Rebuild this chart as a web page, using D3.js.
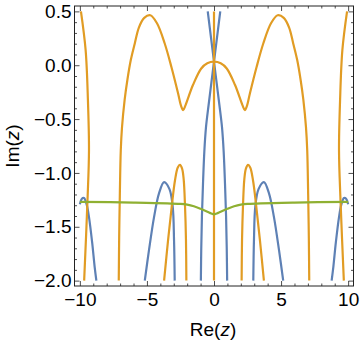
<!DOCTYPE html>
<html>
<head>
<meta charset="utf-8">
<script src="https://cdn.jsdelivr.net/npm/d3@7"></script>
<style>
  body { margin: 0; background: #fff; }
  svg { display: block; }
  text { font-family: "Liberation Sans", Arial, sans-serif; }
</style>
</head>
<body>
<div id="chart"></div>
<script>
// contour curves, [Re(z), Im(z)]
const orangeMain = [
  [-7.10, -2.0], [-7.07, -1.6], [-7.02, -1.2], [-6.95, -0.79], [-6.86, -0.58], [-6.66, -0.32],
  [-6.45, -0.13], [-6.2, 0.05], [-5.91, 0.20], [-5.6, 0.35], [-5.2, 0.44], [-4.75, 0.464],
  [-4.25, 0.39], [-3.68, 0.204], [-3.18, -0.014], [-2.68, -0.26], [-2.45, -0.38], [-2.3, -0.416],
  [-2.12, -0.37], [-1.57, -0.184], [-0.95, -0.03], [-0.5, 0.018], [0, 0.033],
  [0.5, 0.018], [0.95, -0.03], [1.57, -0.184], [2.12, -0.37], [2.3, -0.416], [2.45, -0.38],
  [2.68, -0.26], [3.18, -0.014], [3.68, 0.204], [4.25, 0.39], [4.75, 0.464], [5.2, 0.44],
  [5.6, 0.35], [5.91, 0.20], [6.2, 0.05], [6.45, -0.13], [6.66, -0.32], [6.86, -0.58],
  [6.95, -0.79], [7.02, -1.2], [7.07, -1.6], [7.10, -2.0]
];
const orangeAxis = [[0, 0.5], [0, -2.0]];
const orangeEdgeLeft = [[-9.92, 0.5], [-9.57, 0.14], [-9.40, -0.32], [-9.32, -0.79], [-9.43, -1.25], [-9.68, -2.0]];
const orangeEdgeRight = [[9.92, 0.5], [9.57, 0.14], [9.40, -0.32], [9.32, -0.79], [9.43, -1.25], [9.68, -2.0]];
const orangeArcLeft = [
  [-3.72, -2.0], [-3.42, -1.62], [-3.15, -1.31], [-2.91, -1.07], [-2.70, -0.95], [-2.54, -0.926],
  [-2.38, -0.96], [-2.26, -1.06], [-2.16, -1.31], [-2.09, -1.62], [-2.06, -2.0]
];
const orangeArcRight = [
  [2.06, -2.0], [2.09, -1.62], [2.16, -1.31], [2.26, -1.06], [2.38, -0.96], [2.54, -0.926],
  [2.70, -0.95], [2.91, -1.07], [3.15, -1.31], [3.42, -1.62], [3.72, -2.0]
];

const blueCrossA = [
  [-0.467, 0.5], [-0.2, 0.233], [0, 0.033], [0.2, -0.167], [0.4, -0.367], [0.6, -0.58],
  [0.72, -0.8], [0.82, -1.1], [0.9, -1.4], [0.95, -1.7], [0.98, -2.0]
];
const blueCrossB = [
  [0.467, 0.5], [0.2, 0.233], [0, 0.033], [-0.2, -0.167], [-0.4, -0.367], [-0.6, -0.58],
  [-0.72, -0.8], [-0.82, -1.1], [-0.9, -1.4], [-0.95, -1.7], [-0.98, -2.0]
];
const blueArcLeft = [
  [-5.16, -2.0], [-4.85, -1.72], [-4.47, -1.41], [-4.10, -1.19], [-3.72, -1.085],
  [-3.32, -1.15], [-3.08, -1.31], [-2.98, -1.62], [-2.93, -2.0]
];
const blueArcRight = [
  [2.93, -2.0], [2.98, -1.62], [3.08, -1.31], [3.32, -1.15], [3.72, -1.085],
  [4.10, -1.19], [4.47, -1.41], [4.85, -1.72], [5.16, -2.0]
];
const blueEdgeLeft = [[-10, -1.29], [-9.85, -1.24], [-9.69, -1.233], [-9.5, -1.29], [-9.32, -1.41], [-9.08, -1.65], [-8.9, -1.87], [-8.77, -2.0]];
const blueEdgeRight = [[8.77, -2.0], [8.9, -1.87], [9.08, -1.65], [9.32, -1.41], [9.5, -1.29], [9.69, -1.233], [9.85, -1.24], [10, -1.29]];

const greenLine = [
  [-10, -1.268], [-6, -1.275], [-3.5, -1.282], [-2.5, -1.288], [-2, -1.295], [-1.5, -1.31],
  [-1, -1.333], [-0.5, -1.36], [-0.2, -1.377], [0, -1.385], [0.2, -1.377], [0.5, -1.36],
  [1, -1.333], [1.5, -1.31], [2, -1.295], [2.5, -1.288], [3.5, -1.282], [6, -1.275], [10, -1.268]
];

const xMajor = [-10, -5, 0, 5, 10];
const yMajor = [-2.0, -1.5, -1.0, -0.5, 0.0, 0.5];
const xLabels = ["\u221210", "\u22125", "0", "5", "10"];
const yLabels = ["\u22122.0", "\u22121.5", "\u22121.0", "\u22120.5", "0.0", "0.5"];

const BLUE = "#5e81b5", ORANGE = "#e19c24", GREEN = "#8fb032";

const W = 360, H = 344;
const frame = { left: 74.5, right: 353.5, top: 6, bottom: 286 };

const svg = d3.select("#chart").append("svg").attr("width", W).attr("height", H);

const x = d3.scaleLinear().domain([-10.4, 10.4]).range([frame.left, frame.right]);
const y = d3.scaleLinear().domain([-2.05, 0.55]).range([frame.bottom, frame.top]);

svg.append("clipPath").attr("id", "plot-clip")
  .append("rect")
  .attr("x", frame.left).attr("y", frame.top)
  .attr("width", frame.right - frame.left).attr("height", frame.bottom - frame.top);

const line = d3.line().x(d => x(d[0])).y(d => y(d[1])).curve(d3.curveCatmullRom.alpha(0.5));

const curves = [
  { pts: blueCrossA, color: BLUE }, { pts: blueCrossB, color: BLUE },
  { pts: blueArcLeft, color: BLUE }, { pts: blueArcRight, color: BLUE },
  { pts: blueEdgeLeft, color: BLUE }, { pts: blueEdgeRight, color: BLUE },
  { pts: orangeMain, color: ORANGE }, { pts: orangeAxis, color: ORANGE },
  { pts: orangeEdgeLeft, color: ORANGE }, { pts: orangeEdgeRight, color: ORANGE },
  { pts: orangeArcLeft, color: ORANGE }, { pts: orangeArcRight, color: ORANGE },
  { pts: greenLine, color: GREEN }
];

const plot = svg.append("g").attr("clip-path", "url(#plot-clip)");
plot.selectAll("path.curve").data(curves).join("path")
  .attr("class", "curve")
  .attr("d", d => line(d.pts))
  .attr("fill", "none")
  .attr("stroke", d => d.color)
  .attr("stroke-width", 2.2)
  .attr("stroke-linejoin", "round")
  .attr("stroke-linecap", "butt");

// frame ticks, pointing inwards on all four sides
const xMinor = d3.range(-10, 10.5, 1).filter(v => xMajor.indexOf(v) < 0);
const yMinor = d3.range(-20, 6, 1).map(v => v / 10).filter(v => !yMajor.some(m => Math.abs(m - v) < 1e-9));

function drawAxis(axisFn, scale, transform, major, minor, labels, pad) {
  const gMinor = svg.append("g").attr("transform", transform)
    .call(axisFn(scale).tickValues(minor).tickSize(-2.5).tickFormat(""));
  const gMajor = svg.append("g").attr("transform", transform)
    .call(axisFn(scale).tickValues(major).tickSize(-5).tickPadding(pad)
      .tickFormat(labels ? (d, i) => labels[i] : ""));
  [gMinor, gMajor].forEach(g => {
    g.select(".domain").remove();
    g.selectAll("line").attr("stroke", "#222").attr("stroke-width", 0.8);
    g.selectAll("text").attr("fill", "#000").attr("font-size", 19)
      .attr("font-family", "'Liberation Sans', Arial, sans-serif");
  });
}

drawAxis(d3.axisBottom, x, `translate(0,${frame.bottom})`, xMajor, xMinor, xLabels, 7);
drawAxis(d3.axisTop, x, `translate(0,${frame.top})`, xMajor, xMinor, null, 3);
drawAxis(d3.axisLeft, y, `translate(${frame.left},0)`, yMajor, yMinor, yLabels, 3);
drawAxis(d3.axisRight, y, `translate(${frame.right},0)`, yMajor, yMinor, null, 3);

svg.append("rect")
  .attr("x", frame.left).attr("y", frame.top)
  .attr("width", frame.right - frame.left).attr("height", frame.bottom - frame.top)
  .attr("fill", "none").attr("stroke", "#222").attr("stroke-width", 1);

// axis titles
const xTitle = svg.append("text")
  .attr("x", (frame.left + frame.right) / 2 - 1).attr("y", 336)
  .attr("text-anchor", "middle").attr("font-size", 19);
xTitle.append("tspan").text("Re(");
xTitle.append("tspan").attr("font-style", "italic").text("z");
xTitle.append("tspan").text(")");

const yTitle = svg.append("text")
  .attr("transform", `translate(19,${(frame.top + frame.bottom) / 2}) rotate(-90)`)
  .attr("text-anchor", "middle").attr("font-size", 19);
yTitle.append("tspan").text("Im(");
yTitle.append("tspan").attr("font-style", "italic").text("z");
yTitle.append("tspan").text(")");
</script>
</body>
</html>
